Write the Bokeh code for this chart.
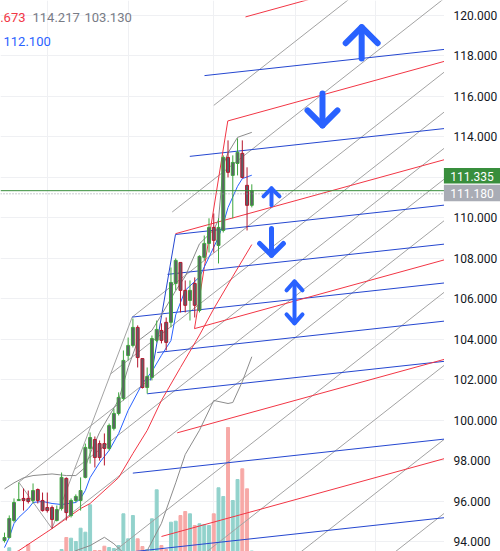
from bokeh.plotting import figure
from bokeh.models import Range1d, FixedTicker, Label
from bokeh.embed import file_html
from bokeh.resources import INLINE
from bokeh.core.properties import value

# ---------------- candles (bar index 0..52) ----------------
open_ = [94.05, 94.20, 95.04, 96.03, 96.13, 96.13, 96.03, 96.57, 96.03, 95.68, 95.68, 95.04, 95.63, 97.12, 95.28,
         96.03, 96.03, 97.17, 98.60, 99.04, 98.84, 98.84, 98.60, 99.59, 100.33, 101.07, 103.19, 103.69, 104.58,
         103.04, 101.61, 102.11, 103.94, 104.43, 104.83, 104.83, 106.75, 107.79, 106.41, 105.91, 106.75, 105.42,
         108.04, 108.73, 109.52, 108.63, 109.37, 112.98, 112.09, 112.68, 113.18, 111.60, 110.61]
high = [94.44, 95.29, 96.13, 96.92, 96.62, 96.52, 96.87, 96.62, 96.42, 96.42, 95.78, 95.78, 97.41, 97.17, 96.13,
        96.33, 97.17, 98.84, 99.39, 99.19, 98.99, 99.34, 99.83, 100.57, 101.37, 103.44, 104.08, 105.02, 104.68,
        103.04, 102.60, 104.18, 104.92, 104.78, 105.07, 107.54, 107.99, 107.79, 106.90, 106.90, 107.05, 108.14,
        109.12, 109.97, 110.21, 109.97, 113.08, 113.82, 113.08, 113.92, 113.82, 112.49, 111.65]
low = [93.95, 94.15, 94.94, 96.03, 95.53, 95.88, 95.88, 95.88, 95.48, 95.43, 94.64, 94.99, 95.53, 95.04, 95.19,
       95.93, 95.53, 97.12, 97.85, 97.66, 98.00, 97.76, 98.50, 99.49, 100.23, 100.97, 102.95, 103.59, 102.60,
       101.56, 101.31, 101.96, 103.84, 103.79, 103.44, 104.58, 106.41, 105.32, 105.32, 104.92, 105.07, 105.32,
       107.89, 108.28, 108.28, 107.74, 109.27, 111.99, 109.97, 112.09, 111.94, 109.37, 110.51]
close = [94.20, 95.14, 95.93, 96.08, 96.03, 95.98, 96.52, 96.03, 95.53, 95.53, 95.09, 95.58, 97.17, 95.43, 96.03,
         96.23, 96.52, 98.65, 99.14, 98.15, 98.15, 98.60, 99.73, 100.33, 101.12, 102.95, 103.69, 104.58, 103.09,
         101.61, 102.16, 104.03, 104.48, 103.94, 103.84, 106.80, 107.89, 106.41, 105.67, 106.41, 105.67, 108.09,
         108.73, 109.52, 108.88, 109.52, 112.98, 112.24, 112.73, 113.23, 111.99, 110.61, 111.335]
volume_k = [0, 37, 0, 0, 0, 70, 0, 0, 0, 0, 0, 0, 20, 140, 133, 100, 233, 193, 467, 10, 10, 53, 40, 30, 60, 377,
            127, 360, 127, 50, 20, 327, 617, 60, 20, 293, 303, 360, 400, 377, 260, 277, 270, 260, 377, 637, 550,
            1240, 510, 720, 827, 627, 5]

# ---------------- indicators ----------------
sma_x = [0, 3, 10, 16, 18, 24, 27, 30, 33, 37, 41, 44, 48, 52]
sma_y = [93.2, 93.55, 94.64, 95.63, 95.88, 97.16, 98.35, 99.49, 100.97, 102.60, 104.2, 105.5, 107.1, 108.673]
ma_x = [0, 1, 2, 3, 5, 6, 8, 10, 12, 15, 16, 17, 18, 20, 22, 24, 26, 29, 31, 33, 35, 36, 38, 41, 43, 45, 46, 47,
        49, 50, 52]
ma_y = [93.7, 94.20, 94.89, 95.19, 95.63, 95.93, 95.98, 95.88, 95.83, 95.93, 96.13, 96.52, 97.16, 97.90, 98.50,
        99.34, 100.48, 101.81, 102.4, 103.2, 103.93, 105.2, 106.41, 107.07, 108.05, 109.04, 109.70, 110.5, 111.55,
        111.93, 112.100]
bbu_x = [0, 2, 4, 6, 10, 13, 15, 17, 18, 20, 22, 24, 26, 28, 31, 33, 36, 38, 41, 44, 45, 46, 47, 49, 52]
bbu_y = [96.6, 96.9, 97.15, 97.26, 97.34, 97.26, 97.26, 97.67, 98.35, 99.4, 100.2, 101.0, 102.6, 103.9, 104.43,
         105.2, 106.4, 107.1, 108.71, 109.4, 109.9, 112.6, 113.2, 113.97, 114.217]
bbl_x = [0, 10, 15, 18, 21, 23, 25, 27, 29, 30, 33, 36, 38, 41, 44, 47, 48, 50, 52]
bbl_y = [92.5, 92.8, 93.55, 93.80, 94.21, 93.89, 93.45, 92.9, 93.0, 93.55, 94.9, 96.9, 98.3, 99.5, 100.97, 100.82,
         100.87, 101.9, 103.13]

# ---------------- drawings: (x0, y0, x1, y1) anchors, extended right ----------------
gray_lines = [(44.01, 115.55, 65.04, 119.43), (35.26, 110.28, 56.29, 114.16), (26.85, 105.09, 47.88, 108.97),
              (22.31, 102.28, 43.34, 106.16), (3.01, 96.93, 24.04, 100.81), (14.70, 97.56, 35.73, 101.44),
              (9.99, 94.64, 31.02, 98.52), (20.27, 93.00, 41.30, 96.88), (39.84, 93.00, 60.87, 96.88),
              (59.66, 93.00, 80.69, 96.88), (79.48, 93.00, 100.51, 96.88)]
gray_handles = [(3.01, 96.93, 9.99, 94.64), (9.99, 94.64, 26.85, 105.09)]
blue_lines = [(42.05, 117.02, 63.08, 117.56), (38.96, 113.03, 59.99, 113.57), (35.95, 109.17, 56.98, 109.71),
              (34.27, 107.20, 55.30, 107.74), (26.85, 105.09, 47.88, 105.63), (32.11, 103.34, 53.14, 103.88),
              (30.00, 101.30, 51.03, 101.84), (26.98, 97.38, 48.01, 97.92), (27.12, 93.50, 48.15, 94.04)]
blue_handles = [(30.70, 101.96, 35.95, 109.17)]
red_lines = [(50.67, 119.92, 71.70, 121.28), (46.95, 114.78, 67.98, 116.14), (35.95, 109.21, 56.98, 110.57),
             (39.95, 104.52, 60.98, 105.88), (36.31, 99.37, 57.34, 100.73), (33.01, 94.25, 54.04, 95.61)]
red_handles = [(39.95, 104.52, 46.95, 114.78)]

# arrows: (x, tail_y, tip_y, arm_dx, arm_dy, width)
arrows = [(75.1, 117.87, 119.41, 3.36, 0.79, 6), (66.86, 116.14, 114.56, 3.15, 0.74, 6),
          (56.14, 110.61, 111.45, 1.68, 0.40, 4), (56.14, 109.47, 108.14, 2.5, 0.59, 5)]
double_arrow = (60.98, 104.78, 106.85, 1.68, 0.44, 4)

last_price = 111.335
close_line = 111.18
y_ticks = list(range(94, 121, 2))
x_grid = [8.98, 26.0, 44.0, 61.2, 78.0]

GRAY = "#a3a3a3"
BLUE_D = "#2547d0"
RED = "#f23645"
BLUE = "#2962ff"
UP = "#3ea63e"
DN = "#b5172e"

X0, X1 = -0.841, 104.29      # page x 0 .. 500
Y0, Y1 = 93.508, 120.731     # page y 551 .. 0
XAXIS = 92.41                # right edge of the price pane

p = figure(width=500, height=551, x_range=Range1d(X0, X1), y_range=Range1d(Y0, Y1),
           output_backend="svg", toolbar_location=None, min_border=0,
           x_axis_location=None, y_axis_location=None)
p.outline_line_color = None
p.background_fill_color = "white"
p.border_fill_color = "white"
p.ygrid.ticker = FixedTicker(ticks=y_ticks)
p.xgrid.ticker = FixedTicker(ticks=x_grid)
p.grid.grid_line_color = "#eff0f3"

# volume
p.extra_y_ranges = {"vol": Range1d(0, 5510)}
idx = list(range(len(close)))
up = [c >= o for o, c in zip(open_, close)]
vcol = ["#92d2cc" if u else "#f7a9a7" for u in up]
p.vbar(x=idx, top=volume_k, bottom=0, width=0.62, color=vcol, y_range_name="vol")

def ext(seg, xe=100.0):
    x0, y0, x1, y1 = seg
    s = (y1 - y0) / (x1 - x0)
    return x0, y0, xe, y0 + s * (xe - x0)

def draw(lines, color, extend=True, width=1):
    segs = [ext(s) if extend else s for s in lines]
    p.segment(x0=[s[0] for s in segs], y0=[s[1] for s in segs], x1=[s[2] for s in segs], y1=[s[3] for s in segs],
              line_color=color, line_width=width)

draw(gray_lines, GRAY)
draw(gray_handles, GRAY, extend=False)
draw(blue_lines, BLUE_D)
draw(blue_handles, BLUE_D, extend=False)
draw(red_lines, RED)
draw(red_handles, RED, extend=False)

# indicators
p.line(bbu_x, bbu_y, line_color="#8c8c8c", line_width=1)
p.line(bbl_x, bbl_y, line_color="#8c8c8c", line_width=1)
p.line(sma_x, sma_y, line_color=RED, line_width=1)
p.line(ma_x, ma_y, line_color=BLUE, line_width=1)

# candles
wcol = [UP if u else DN for u in up]
p.segment(x0=idx, y0=high, x1=idx, y1=low, line_color=wcol, line_width=1)
p.vbar(x=idx, top=[max(o, c) for o, c in zip(open_, close)], bottom=[min(o, c) for o, c in zip(open_, close)],
       width=0.62, fill_color="#5d5f66", line_color=wcol, line_width=1)

# price lines
p.segment(x0=[X0], y0=[last_price], x1=[XAXIS], y1=[last_price], line_color="#388e3c", line_width=1)
p.segment(x0=[X0], y0=[close_line], x1=[XAXIS], y1=[close_line], line_color="#9598a1", line_width=1,
          line_dash="1 2")

# arrows
for x, ty, tip, dx, dy, w in arrows:
    sgn = 1 if tip > ty else -1
    p.line([x, x], [ty, tip], line_color=BLUE, line_width=w, line_cap="round")
    p.line([x - dx, x, x + dx], [tip - sgn * dy, tip, tip - sgn * dy], line_color=BLUE, line_width=w,
           line_cap="round", line_join="round")
x, lo, hi, dx, dy, w = double_arrow
p.line([x, x], [lo, hi], line_color=BLUE, line_width=w, line_cap="round")
p.line([x - dx, x, x + dx], [hi - dy, hi, hi - dy], line_color=BLUE, line_width=w, line_cap="round", line_join="round")
p.line([x - dx, x, x + dx], [lo + dy, lo, lo + dy], line_color=BLUE, line_width=w, line_cap="round", line_join="round")

# price scale pane (right)
p.quad(left=[XAXIS], right=[X1 + 1], bottom=[Y0 - 1], top=[Y1 + 1], fill_color="white", line_color=None)
p.text(x=[94.41] * len(y_ticks), y=y_ticks, text=[f"{t:.3f}" for t in y_ticks], text_font=value("Roboto"),
       text_font_size="12px", text_baseline="middle", text_align="left", text_color="#131722")
p.quad(left=[XAXIS - 0.02], right=[X1 + 1], top=[112.45], bottom=[111.69], fill_color="#388e3c", line_color=None)
p.quad(left=[XAXIS - 0.02], right=[X1 + 1], top=[111.63], bottom=[110.81], fill_color="#a9acb5", line_color=None)
p.text(x=[98.3, 98.3], y=[112.06, 111.21], text=[f"{last_price:.3f}", f"{close_line:.3f}"],
       text_font=value("Roboto"), text_font_size="12px", text_baseline="middle", text_align="center",
       text_color="white")

# legend texts (screen units, origin bottom-left)
for tx, xx, yy, col, al in [(".673", 25, 534, RED, "right"), ("114.217", 32, 534, "#787b86", "left"),
                            ("103.130", 84, 534, "#787b86", "left"), ("112.100", 3, 510, BLUE, "left")]:
    p.add_layout(Label(x=xx, y=yy, x_units="screen", y_units="screen", text=tx, text_color=col,
                       text_font_size="13px", text_font="Roboto", text_baseline="middle", text_align=al))

open("out.html", "w").write(file_html(p, INLINE))
